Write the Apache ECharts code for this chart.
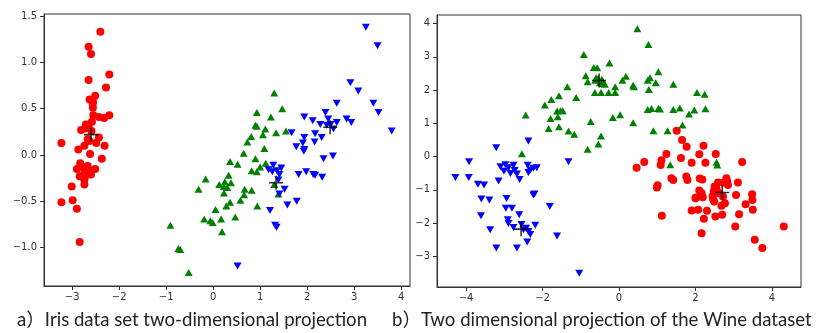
<!DOCTYPE html>
<html>
<head>
<meta charset="utf-8">
<script src="https://cdn.jsdelivr.net/npm/echarts@6/dist/echarts.min.js"></script>
<style>
  html, body { margin: 0; padding: 0; background: #fff; }
  #chart { width: 816px; height: 333px; }
</style>
</head>
<body>
<div id="chart"></div>
<script>
// ---- Iris projection (left) ----
const irisRed = [[-2.40,1.33],[-2.65,1.17],[-2.60,1.09],[-2.21,0.87],[-2.65,0.81],[-2.28,0.73],[-2.51,0.64],[-2.63,0.60],[-2.56,0.58],[-2.56,0.51],[-2.55,0.43],[-2.21,0.43],[-2.43,0.41],[-2.32,0.40],[-2.58,0.36],[-2.71,0.33],[-2.65,0.31],[-2.81,0.27],[-2.72,0.29],[-3.23,0.13],[-2.67,0.17],[-2.43,0.19],[-2.49,0.13],[-2.74,0.10],[-2.31,0.10],[-2.87,0.06],[-2.62,0.01],[-2.37,-0.04],[-2.83,-0.09],[-2.67,-0.12],[-2.51,-0.15],[-2.90,-0.15],[-2.62,-0.18],[-2.74,-0.20],[-2.60,-0.21],[-2.84,-0.23],[-2.74,-0.27],[-2.74,-0.32],[-3.01,-0.34],[-3.23,-0.51],[-2.99,-0.49],[-2.90,-0.58],[-2.84,-0.94],[-2.68,0.32],[-2.59,0.26],[-2.66,-0.16],[-2.70,-0.22],[-2.56,0.56],[-2.63,0.15],[-2.78,-0.13]]
const irisGreen = [[1.30,0.67],[1.47,0.50],[0.93,0.46],[1.23,0.41],[0.90,0.32],[0.93,0.31],[1.11,0.28],[1.34,0.24],[1.55,0.26],[1.06,0.22],[0.81,0.20],[0.73,0.14],[1.09,0.07],[0.65,0.02],[0.90,-0.04],[0.36,-0.07],[0.52,-0.10],[1.12,-0.09],[1.00,-0.13],[0.82,-0.17],[0.93,-0.18],[0.33,-0.22],[-0.16,-0.26],[0.38,-0.30],[0.25,-0.29],[0.13,-0.32],[0.23,-0.34],[0.30,-0.35],[-0.31,-0.37],[0.23,-0.41],[0.67,-0.37],[0.66,-0.43],[0.82,-0.38],[1.39,-0.42],[1.30,-0.32],[0.58,-0.49],[0.36,-0.51],[0.28,-0.55],[0.94,-0.55],[0.05,-0.59],[-0.19,-0.69],[-0.06,-0.71],[-0.01,-0.73],[0.17,-0.69],[0.47,-0.67],[0.19,-0.83],[-0.91,-0.76],[-0.74,-1.01],[-0.70,-1.02],[-0.52,-1.27]]
const irisBlue = [[3.25,1.38],[3.50,1.18],[2.92,0.78],[3.09,0.69],[2.63,0.56],[3.41,0.56],[3.52,0.46],[2.39,0.46],[1.94,0.41],[2.12,0.37],[2.28,0.33],[2.45,0.39],[2.63,0.35],[2.84,0.39],[2.94,0.35],[2.56,0.28],[2.17,0.23],[1.94,0.19],[1.67,0.24],[2.31,0.19],[3.80,0.26],[1.91,0.13],[1.77,0.09],[1.94,0.06],[1.93,0.04],[2.16,0.14],[2.35,-0.04],[2.55,-0.01],[1.28,-0.11],[1.45,-0.14],[1.18,-0.16],[1.26,-0.18],[1.41,-0.21],[1.82,-0.21],[1.98,-0.18],[2.13,-0.21],[2.17,-0.22],[2.32,-0.24],[1.52,-0.37],[1.41,-0.42],[1.58,-0.54],[1.78,-0.50],[1.21,-0.60],[1.32,-0.76],[1.35,-0.78],[0.52,-1.20],[1.39,-0.27],[2.50,0.33],[2.42,0.32],[1.36,-0.17]]
const irisCenters = [[-2.60,0.22],[1.34,-0.30],[2.49,0.30]]
const irisXTicks = [-3,-2,-1,0,1,2,3,4]
const irisYTicks = [-1.0,-0.5,0.0,0.5,1.0,1.5]

// ---- Wine projection (right) ----
const wineRed = [[1.51,0.78],[1.65,0.50],[1.77,0.30],[2.21,0.33],[1.24,0.08],[2.10,0.07],[2.53,0.08],[1.62,-0.04],[1.90,-0.18],[2.26,-0.18],[3.22,-0.16],[1.11,-0.11],[1.09,-0.25],[0.66,-0.16],[0.46,-0.33],[1.37,-0.65],[1.42,-0.70],[1.76,-0.60],[1.79,-0.70],[2.11,-0.66],[2.18,-0.69],[1.01,-0.86],[0.99,-0.93],[1.12,-1.78],[2.59,-0.78],[2.50,-0.90],[2.48,-1.03],[2.81,-0.65],[2.83,-0.75],[2.74,-0.78],[3.11,-0.78],[2.10,-1.02],[2.16,-1.10],[2.01,-1.23],[2.19,-1.22],[2.45,-1.18],[2.46,-1.28],[2.49,-1.35],[2.72,-1.20],[2.77,-1.40],[2.68,-1.48],[3.06,-1.15],[3.14,-1.73],[3.48,-1.13],[3.49,-1.30],[3.31,-1.43],[3.50,-1.60],[1.90,-1.62],[2.07,-1.60],[2.30,-1.63],[2.22,-1.87],[2.52,-1.80],[2.70,-1.75],[2.00,-1.25],[3.04,-2.10],[2.16,-2.30],[4.31,-2.10],[3.55,-2.50],[3.75,-2.75],[2.55,-0.95],[2.62,-1.10],[2.85,-0.85]]
const wineGreen = [[0.48,3.85],[0.77,3.37],[-0.92,3.07],[-0.66,2.68],[-0.57,2.67],[-0.25,2.82],[-0.87,2.43],[-0.82,2.25],[-0.60,2.37],[-0.45,2.33],[-0.37,2.18],[-0.63,1.93],[-0.47,1.93],[-0.27,1.93],[-0.10,1.93],[-0.10,2.10],[0.09,2.30],[0.18,2.42],[0.37,2.15],[0.39,2.10],[1.03,2.55],[0.75,2.30],[0.81,2.37],[0.96,2.22],[0.78,2.02],[1.42,2.18],[2.04,1.93],[2.24,1.88],[2.26,1.44],[1.97,1.40],[1.83,1.28],[1.59,1.46],[1.42,1.42],[1.03,1.45],[0.75,1.42],[0.85,1.45],[1.07,1.43],[1.66,0.95],[1.27,0.78],[0.90,0.78],[0.37,1.02],[0.03,1.26],[-0.16,1.18],[-0.74,1.06],[-0.47,0.62],[-0.54,0.38],[-0.82,0.22],[-1.12,1.78],[-1.35,2.10],[-1.57,1.83],[-1.77,1.72],[-1.94,1.55],[-1.79,1.15],[-1.60,1.20],[-1.62,1.37],[-1.53,1.38],[-1.47,1.38],[-1.57,0.90],[-1.84,0.85],[-1.32,0.77],[-1.17,0.67],[-2.44,1.25],[-2.54,0.09],[1.34,-0.24],[2.55,-0.17],[2.57,-0.25],[-0.62,2.30],[-0.50,2.22],[-0.40,2.20],[-0.55,2.35],[-0.42,2.27]]
const wineBlue = [[-3.21,0.27],[-2.37,0.47],[-3.92,-0.15],[-4.28,-0.63],[-3.93,-0.63],[-3.69,-0.83],[-3.53,-0.85],[-3.15,-0.73],[-3.60,-1.27],[-3.39,-1.30],[-3.61,-1.78],[-3.37,-2.20],[-3.21,-2.75],[-2.67,-2.75],[-3.10,-0.30],[-2.97,-0.24],[-2.89,-0.33],[-2.76,-0.26],[-3.01,-0.44],[-2.84,-0.51],[-2.67,-0.52],[-2.60,-0.69],[-2.39,-0.26],[-2.32,-0.40],[-2.24,-0.35],[-2.15,-0.33],[-2.37,-0.48],[-2.24,-1.15],[-2.21,-1.12],[-2.94,-1.26],[-2.96,-1.55],[-2.80,-1.55],[-2.61,-1.75],[-1.81,-1.50],[-2.91,-1.90],[-2.89,-2.01],[-2.76,-2.13],[-2.55,-2.04],[-2.43,-2.15],[-2.37,-2.25],[-2.32,-2.34],[-2.40,-2.57],[-2.19,-2.06],[-1.62,-2.39],[-1.32,-0.15],[-1.04,-3.51],[-2.73,-0.42],[-2.50,-2.20]]
const wineCenters = [[-0.52,2.29],[2.70,-1.08],[-2.56,-2.18]]
const wineXTicks = [-4,-2,0,2,4]
const wineYTicks = [-3,-2,-1,0,1,2,3,4]

const captions = ['a）Iris data set two-dimensional projection', 'b）Two dimensional projection of the Wine dataset']

const minus = s => String(s).replace('-', '\u2212')
const labelStyle = { color: '#333', fontFamily: 'DejaVu Sans', fontSize: 10 }
const lineStyle = { color: '#333', width: 1 }

function makeAxis (gridIndex, min, max, ticks, fmt, margin) {
  return {
    type: 'value',
    gridIndex: gridIndex,
    min: min,
    max: max,
    splitLine: { show: false },
    axisLine: { show: true, onZero: false, lineStyle: lineStyle },
    axisTick: { show: true, length: 4, lineStyle: lineStyle, customValues: ticks },
    axisLabel: Object.assign({ margin: margin, customValues: ticks, formatter: fmt }, labelStyle),
  }
}

// 散点系列
function scatter (data, ai, color, symbol, rotate) {
  return {
    type: 'scatter',
    xAxisIndex: ai,
    yAxisIndex: ai,
    data: data,
    symbol: symbol,
    symbolSize: symbol === 'circle' ? 8 : [8, 7],
    symbolRotate: rotate || 0,
    itemStyle: { color: color, opacity: 1 },
    silent: true,
  }
}

// 中心点 (+)
function centers (data, ai) {
  return {
    type: 'scatter',
    xAxisIndex: ai,
    yAxisIndex: ai,
    data: data,
    z: 5,
    symbol: 'path://M0,-10L0,10M-10,0L10,0',
    symbolSize: 14,
    itemStyle: { color: 'transparent', borderColor: '#000', borderWidth: 1.6 },
    silent: true,
  }
}

const chart = echarts.init(document.getElementById('chart'), null, { renderer: 'canvas' })
const fmt1 = v => minus(Number(v).toFixed(1))
const fmt0 = v => minus(v)
const captionFont = { fontSize: 18.6, fontFamily: 'Lato, "Noto Sans CJK SC"', fill: '#222' }

chart.setOption({
  animation: false,
  backgroundColor: '#fff',
  grid: [
    { left: 44, top: 14, width: 366, height: 272, show: true, borderColor: '#333', borderWidth: 1 },
    { left: 437, top: 15, width: 364, height: 272, show: true, borderColor: '#333', borderWidth: 1 },
  ],
  xAxis: [
    makeAxis(0, -3.6, 4.19, irisXTicks, fmt0, 6),
    makeAxis(1, -4.76, 4.76, wineXTicks, fmt0, 6),
  ],
  yAxis: [
    makeAxis(0, -1.415, 1.523, irisYTicks, fmt1, 7),
    makeAxis(1, -3.92, 4.26, wineYTicks, fmt0, 7),
  ],
  series: [
    scatter(irisRed, 0, '#ff0000', 'circle'),
    scatter(irisGreen, 0, '#008000', 'triangle'),
    scatter(irisBlue, 0, '#0000ff', 'triangle', 180),
    centers(irisCenters, 0),
    scatter(wineRed, 1, '#ff0000', 'circle'),
    scatter(wineGreen, 1, '#008000', 'triangle'),
    scatter(wineBlue, 1, '#0000ff', 'triangle', 180),
    centers(wineCenters, 1),
  ],
  graphic: [
    { type: 'text', left: 17, top: 311, style: Object.assign({ text: captions[0] }, captionFont) },
    { type: 'text', left: 392, top: 311, style: Object.assign({ text: captions[1] }, captionFont) },
  ],
})
</script>
</body>
</html>
